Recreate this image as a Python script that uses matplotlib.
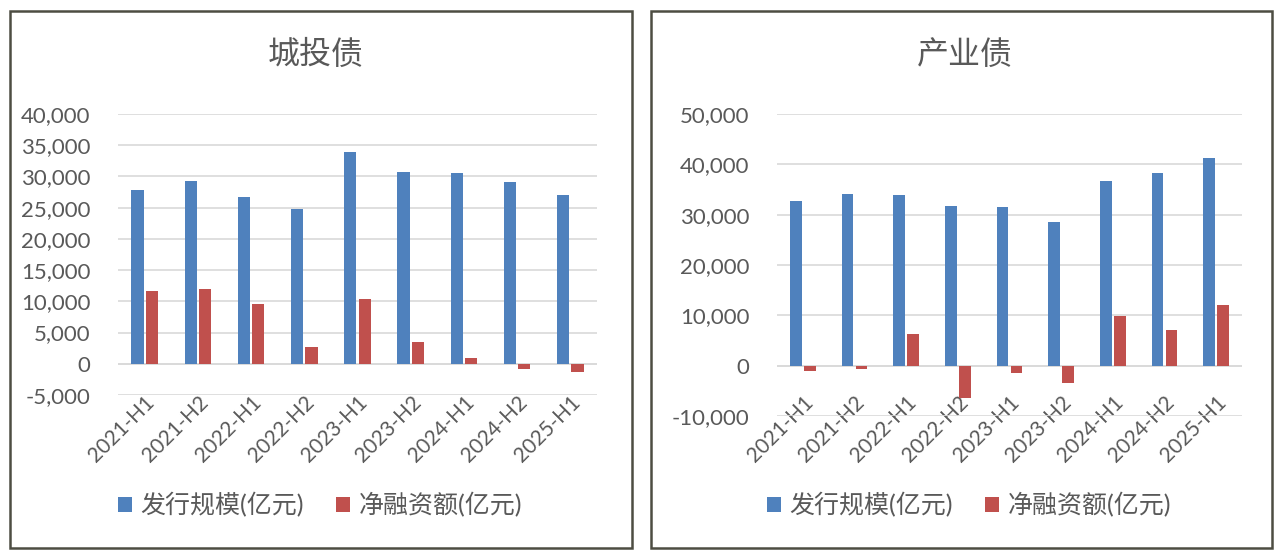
import matplotlib
matplotlib.use("Agg")
import matplotlib.pyplot as plt
from matplotlib.patches import Rectangle
from matplotlib.ticker import FuncFormatter
import numpy as np

plt.rcParams['font.family'] = ['Lato', 'Noto Sans CJK SC', 'DejaVu Sans']

periods = ["2021-H1", "2021-H2", "2022-H1", "2022-H2", "2023-H1",
           "2023-H2", "2024-H1", "2024-H2", "2025-H1"]

# 城投债
chengtou_issue = [27800, 29300, 26700, 24850, 33900, 30750, 30600, 29100, 27100]
chengtou_net = [11600, 12050, 9500, 2650, 10350, 3500, 950, -850, -1330]

# 产业债
chanye_issue = [32700, 34100, 34000, 31800, 31500, 28600, 36700, 38300, 41200]
chanye_net = [-1100, -700, 6300, -6400, -1500, -3500, 9800, 7100, 12000]

series_names = ["发行规模(亿元)", "净融资额(亿元)"]
BLUE = "#4F81BD"
RED = "#C0504D"
GREY = "#595959"

fig = plt.figure(figsize=(12.8, 5.59), dpi=100)

# panel frames
for x0, x1 in [(10, 632), (651, 1272)]:
    fig.patches.append(Rectangle((x0 / 1280, 1 - 548 / 559), (x1 - x0) / 1280,
                                 (548 - 11) / 559, transform=fig.transFigure,
                                 fill=False, edgecolor="#4d4d42", linewidth=1.8))


def draw(rect, title, issue, net, ylim, step, title_x, legend_x, xpad):
    ax = fig.add_axes(rect)
    x = np.arange(len(periods))
    w = 0.23
    b1 = ax.bar(x - 0.135, issue, width=w, color=BLUE, zorder=3)
    b2 = ax.bar(x + 0.135, net, width=w, color=RED, zorder=3)
    ax.set_xlim(-0.5, len(periods) - 0.5)
    ax.set_ylim(*ylim)
    ax.set_yticks(np.arange(ylim[0], ylim[1] + 1, step))
    ax.yaxis.set_major_formatter(FuncFormatter(lambda v, p: f"{int(v):,}"))
    ax.grid(axis="y", color="#d9d9d9", linewidth=1.2, zorder=0)
    for s in ax.spines.values():
        s.set_visible(False)
    ax.axhline(0, color="#d9d9d9", linewidth=1.2, zorder=1)
    ax.tick_params(length=0, labelsize=16, colors=GREY)
    ax.tick_params(axis="y", pad=20)
    ax.tick_params(axis="x", labelsize=15, pad=xpad)
    ax.set_xticks(x)
    ax.set_xticklabels(periods, rotation=45, ha="right", rotation_mode="anchor")
    fig.text(title_x, 1 - 55 / 559, title, ha="center", va="center",
             fontsize=23, color=GREY)
    fig.legend([b1, b2], series_names, loc="center",
               bbox_to_anchor=(legend_x, 1 - 505 / 559), ncol=2, frameon=False,
               fontsize=18, labelcolor=GREY, handlelength=0.55, handleheight=0.55,
               handletextpad=0.35, columnspacing=1.3)
    return ax


draw([118 / 1280, 1 - 395 / 559, (597 - 118) / 1280, (395 - 114) / 559],
     "城投债", chengtou_issue, chengtou_net, (-5000, 40000), 5000,
     316 / 1280, 320 / 1280, -2)
draw([777 / 1280, 1 - 416 / 559, (1242 - 777) / 1280, (416 - 114) / 559],
     "产业债", chanye_issue, chanye_net, (-10000, 50000), 10000,
     965 / 1280, 969 / 1280, -17)

fig.savefig("out.png", dpi=100, facecolor="white")
